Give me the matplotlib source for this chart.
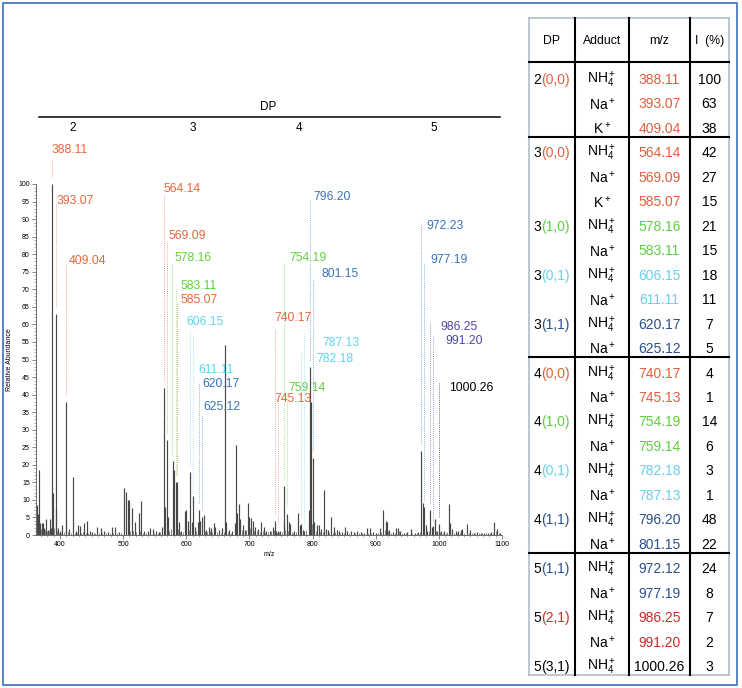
import matplotlib
matplotlib.use('Agg')
import matplotlib.pyplot as plt
from matplotlib.patches import Rectangle
from matplotlib.ticker import MultipleLocator

plt.rcParams['font.family'] = ['Liberation Sans', 'DejaVu Sans']
plt.rcParams['mathtext.fontset'] = 'custom'
plt.rcParams['mathtext.rm'] = 'Liberation Sans'
plt.rcParams['mathtext.it'] = 'Liberation Sans:italic'
plt.rcParams['mathtext.default'] = 'regular'

# ---- spectrum: main peaks (m/z, relative abundance %)
peak_mz = [363.0, 364.5, 366.8, 368.0, 371.0, 373.6, 375.0, 377.9, 381.0, 384.0, 386.0,
           388.1, 389.5, 393.1, 394.0, 397.0, 400.0, 403.8, 409.0, 410.3, 415.0, 421.3,
           425.0, 429.0, 431.0, 438.0, 443.5, 447.0, 451.0, 459.0, 465.0, 470.0, 476.0,
           482.0, 487.4, 493.0, 500.6, 504.4, 507.0, 509.0, 514.0, 519.0, 524.4, 528.6,
           533.0, 540.0, 543.0, 546.6, 552.0, 557.0, 561.5, 564.1, 565.6, 569.1, 571.0,
           578.2, 580.6, 583.1, 585.1, 588.0, 592.0, 597.4, 599.6, 602.7, 606.2, 609.0,
           611.1, 614.0, 618.6, 620.2, 622.5, 625.1, 627.6, 631.0, 635.5, 639.3, 643.5,
           646.0, 652.5, 656.7, 661.0, 663.0, 668.0, 673.0, 676.8, 679.0, 681.0, 683.0,
           685.8, 690.0, 693.0, 697.0, 699.0, 702.0, 705.3, 709.0, 714.0, 719.0, 723.0,
           727.0, 732.0, 736.6, 740.2, 742.0, 745.1, 749.0, 754.2, 755.5, 759.1, 763.0,
           765.0, 771.0, 777.3, 780.0, 782.2, 785.0, 787.1, 793.7, 796.2, 797.6, 801.2,
           803.0, 807.0, 810.7, 814.0, 818.0, 821.0, 824.0, 829.0, 834.5, 838.0, 842.5,
           847.0, 852.0, 855.0, 861.0, 865.0, 870.0, 876.8, 881.0, 885.8, 891.0, 896.0,
           900.0, 906.0, 912.3, 916.0, 917.5, 921.0, 927.0, 932.0, 935.5, 939.0, 945.0,
           950.0, 955.6, 962.0, 967.0, 972.1, 974.2, 977.2, 979.0, 982.0, 986.3, 988.5,
           991.2, 994.2, 997.0, 1000.3, 1004.0, 1008.0, 1015.4, 1018.0, 1021.0, 1027.0,
           1031.0, 1035.0, 1037.0, 1044.0, 1049.3, 1055.0, 1061.0, 1066.0, 1072.0, 1078.0,
           1083.0, 1088.0, 1092.0, 1097.0]
peak_int = [8.5, 6.0, 18.5, 3.4, 3.3, 3.3, 2.0, 4.7, 1.4, 4.7, 2.0,
            100, 12.0, 63, 7.6, 1.9, 1.2, 2.8, 38, 4.7, 1.7, 16.4,
            1.0, 2.8, 2.6, 3.3, 4.0, 1.0, 0.8, 2.4, 2.1, 1.1, 0.8,
            2.3, 2.3, 0.8, 13.5, 12.2, 10.0, 10.0, 7.6, 3.8, 6.2, 9.7,
            1.0, 1.2, 2.1, 1.7, 1.0, 0.8, 2.4, 42, 8.0, 27, 5.0,
            21, 18.5, 15, 15, 3.8, 1.0, 6.7, 7.2, 4.1, 18, 3.8,
            11, 2.4, 3.8, 7.0, 4.1, 5.0, 5.7, 1.4, 2.4, 2.1, 3.3,
            2.4, 1.4, 1.9, 54, 3.8, 1.4, 1.1, 3.3, 25.5, 6.2, 8.7,
            4.7, 2.8, 1.4, 9.0, 5.2, 4.9, 4.1, 2.4, 1.7, 3.8, 2.4,
            1.0, 1.0, 2.4, 4.0, 1.1, 1.0, 1.0, 14, 3.8, 6.0, 3.8,
            3.0, 1.1, 6.2, 2.8, 3.0, 1.5, 1.0, 7.1, 48, 38, 22,
            3.8, 2.8, 2.8, 1.7, 12.8, 1.7, 1.4, 5.2, 2.4, 1.4, 1.1,
            0.8, 2.4, 1.1, 1.2, 0.8, 1.0, 0.8, 0.6, 2.1, 2.1, 0.8,
            0.6, 2.1, 7.1, 4.0, 3.8, 1.4, 0.8, 2.1, 2.1, 1.0, 0.6,
            0.8, 1.7, 0.6, 0.8, 24, 9.0, 8.0, 2.8, 1.0, 7.0, 2.4,
            2.5, 4.7, 1.0, 3.0, 1.0, 1.1, 8.8, 3.3, 1.7, 1.0,
            1.0, 1.4, 1.7, 3.1, 1.4, 0.6, 0.8, 0.6, 0.7, 0.6,
            0.8, 3.6, 1.7, 0.6]

# ---- spectrum: baseline noise
noise_mz = [365.5, 369.5, 372.5, 376, 379.5, 382.5, 391, 396, 399, 402, 406, 412, 418, 423,
            427, 434, 436, 441, 445, 454, 456, 462, 467, 473, 479, 484, 490, 497, 502, 511,
            516, 521, 526, 531, 536, 549, 555, 559, 567, 573, 575.5, 587, 590, 595, 604.5,
            616, 629.5, 633, 637, 641.5, 649, 654.5, 659, 665.5, 671, 688, 695, 700.5, 707,
            711.5, 716.5, 721, 725, 730, 734, 738.5, 744, 747, 751, 757, 761, 767, 769, 774,
            790, 799.5, 805, 812, 816, 826, 832, 836, 844, 849, 858, 867, 873, 879, 888, 893,
            903, 909, 914, 919, 924, 930, 937.5, 942, 948, 958, 965, 969.5, 975.5, 984, 990,
            996, 1002, 1006, 1011, 1013, 1024, 1029, 1033, 1040, 1047, 1052, 1058, 1063,
            1069, 1075, 1081, 1086, 1090, 1095]
noise_int = [2.5, 1.8, 1.2, 1.5, 1.0, 1.3, 2.0, 1.1, 0.6, 0.7, 0.9, 0.8, 0.6, 0.7,
             0.5, 0.6, 0.9, 0.5, 0.7, 0.5, 0.7, 0.6, 0.5, 0.6, 0.5, 0.7, 0.6, 0.7, 1.5, 1.2,
             1.0, 0.8, 1.1, 0.7, 0.6, 0.7, 0.6, 0.9, 1.5, 1.1, 1.8, 1.6, 0.8, 0.9, 1.5,
             1.1, 1.2, 0.9, 1.0, 0.8, 0.9, 0.7, 0.8, 0.8, 0.6, 1.5, 1.5, 2.0, 1.2,
             1.0, 0.9, 1.1, 0.7, 0.8, 1.2, 1.5, 0.7, 0.8, 0.9, 1.5, 1.1, 0.8, 0.6, 0.8,
             1.5, 3.0, 1.2, 0.9, 0.8, 0.8, 0.7, 0.9, 0.6, 0.7, 0.5, 0.5, 0.6, 0.5, 0.7, 0.6,
             0.5, 0.9, 1.5, 1.2, 0.7, 0.6, 1.0, 0.5, 0.5, 0.6, 0.5, 0.9, 3.0, 1.2, 0.9,
             1.1, 0.8, 0.6, 0.7, 0.9, 0.7, 0.6, 0.7, 0.6, 0.5, 0.6, 0.5, 0.5,
             0.5, 0.5, 0.5, 0.7, 1.0, 0.5]

# ---- assignment table
row_dp = [2, 2, 2, 3, 3, 3, 3, 3, 3, 3, 3, 3, 4, 4, 4, 4, 4, 4, 4, 4, 5, 5, 5, 5, 5]
row_comp = ['(0,0)', '(0,0)', '(0,0)', '(0,0)', '(0,0)', '(0,0)', '(1,0)', '(1,0)',
            '(0,1)', '(0,1)', '(1,1)', '(1,1)', '(0,0)', '(0,0)', '(1,0)', '(1,0)',
            '(0,1)', '(0,1)', '(1,1)', '(1,1)', '(1,1)', '(1,1)', '(2,1)', '(2,1)', '(3,1)']
row_adduct = ['NH4', 'Na', 'K', 'NH4', 'Na', 'K', 'NH4', 'Na', 'NH4', 'Na', 'NH4', 'Na',
              'NH4', 'Na', 'NH4', 'Na', 'NH4', 'Na', 'NH4', 'Na', 'NH4', 'Na', 'NH4', 'Na', 'NH4']
row_mz = ['388.11', '393.07', '409.04', '564.14', '569.09', '585.07', '578.16', '583.11',
          '606.15', '611.11', '620.17', '625.12', '740.17', '745.13', '754.19', '759.14',
          '782.18', '787.13', '796.20', '801.15', '972.12', '977.19', '986.25', '991.20',
          '1000.26']
row_int = [100, 63, 38, 42, 27, 15, 21, 15, 18, 11, 7, 5, 4, 1, 14, 6, 3, 1, 48, 22,
           24, 8, 7, 2, 3]
# peak labels in the spectrum (same order as table rows)
spec_labels = ['388.11', '393.07', '409.04', '564.14', '569.09', '585.07', '578.16', '583.11',
               '606.15', '611.11', '620.17', '625.12', '740.17', '745.13', '754.19', '759.14',
               '782.18', '787.13', '796.20', '801.15', '972.23', '977.19', '986.25', '991.20',
               '1000.26']
dp_values = ['2', '3', '4', '5']

# ---- layout for the labels: text left (m/z), text height, top of the dotted guide
lab_x = [387.4, 395.3, 414.4, 563.6, 571.5, 590.6, 581.0, 590.6, 600.0, 619.0, 625.5, 627.0,
         739.8, 739.8, 763.6, 762.0, 806.4, 816.0, 801.7, 814.4, 981.0, 985.8, 1001.7,
         1009.6, 1016.0]
lab_y = [109.7, 95.2, 78.1, 98.6, 85.2, 67.0, 78.9, 70.9, 60.7, 47.0, 43.0, 36.5,
         61.8, 38.7, 78.9, 41.9, 50.1, 54.7, 96.3, 74.4, 88.0, 78.3, 59.3, 55.3, 41.9]
guide_top = [106.8, 94.6, 76.9, 96.9, 83.8, 66.0, 77.5, 70.0, 58.4, 57.0, 43.5, 34.2,
             58.6, 40.0, 77.6, 40.5, 52.0, 57.5, 95.4, 73.3, 88.9, 77.5, 60.4, 56.4, 43.3]
dp_centers = [73, 193, 299, 434]   # pixel x of the DP numbers

tab_colors = {'(0,0)': '#e35f3a', '(1,0)': '#5ccf3e', '(0,1)': '#62d4ec',
              '(1,1)': '#2c4f8c', '(2,1)': '#cf2a2a', '(3,1)': 'black'}
plot_colors = {'(0,0)': '#e8663e', '(1,0)': '#62d23f', '(0,1)': '#5fd5ee',
               '(1,1)': '#3a74bd', '(2,1)': '#4d46a5', '(3,1)': 'black'}
adduct_tex = {'NH4': r'NH$_4^+$', 'Na': r'Na$^+$', 'K': r'K$^+$'}

W, H = 742, 688
fig = plt.figure(figsize=(W / 100, H / 100), dpi=100)

# ---------------- spectrum
ax = fig.add_axes([36 / W, 1 - 535 / H, 466 / W, 351 / H])
ax.vlines(noise_mz, 0, noise_int, color='#777777', lw=0.6)
ax.vlines(peak_mz, 0, peak_int, color='#474747', lw=0.85)
ax.set_xlim(362, 1100)
ax.set_ylim(0, 100)
for s in ['top', 'right']:
    ax.spines[s].set_visible(False)
for s in ['left', 'bottom']:
    ax.spines[s].set_color('#555555')
    ax.spines[s].set_linewidth(0.6)
ax.xaxis.set_major_locator(MultipleLocator(100))
ax.xaxis.set_minor_locator(MultipleLocator(10))
ax.yaxis.set_major_locator(MultipleLocator(5))
ax.yaxis.set_minor_locator(MultipleLocator(1))
ax.tick_params(which='major', length=3, width=0.5, labelsize=5, pad=1.5, color='#555555')
ax.tick_params(which='minor', length=1.5, width=0.4, color='#777777')
ax.set_xlabel('m/z', fontsize=5, labelpad=2)
ax.set_ylabel('Relative Abundance', fontsize=5, labelpad=4)

for i, lab in enumerate(spec_labels):
    c = plot_colors[row_comp[i]]
    mz = float(row_mz[i])
    ax.vlines(mz, row_int[i] + 2, guide_top[i], colors=c, linestyles=(0, (1, 1.5)),
              lw=0.6, alpha=0.75, clip_on=False)
    ax.text(lab_x[i], lab_y[i], lab, color=c, fontsize=8.8, ha='left', va='center',
            clip_on=False)

# ---------------- overlay (pixel coords): DP scale, table, frame
ov = fig.add_axes([0, 0, 1, 1])
ov.set_xlim(0, W)
ov.set_ylim(H, 0)
ov.set_axis_off()
ov.patch.set_visible(False)

ov.plot([39, 500], [117, 117], color='black', lw=1.1)
ov.text(268, 107, 'DP', fontsize=8.5, ha='center', va='center')
for x, d in zip(dp_centers, dp_values):
    ov.text(x, 128, d, fontsize=8.5, ha='center', va='center')

col_x = [529, 575, 629, 690, 729]
top, head_line, bottom = 18, 62, 675
row0, step = 80, 24.46
gray = '#b3bcc7'

# outer border
ov.plot([col_x[0], col_x[-1]], [top, top], color=gray, lw=1.2)
ov.plot([col_x[0], col_x[-1]], [bottom, bottom], color=gray, lw=1.2)
ov.plot([col_x[0], col_x[0]], [top, bottom], color=gray, lw=1.2)
ov.plot([col_x[-1], col_x[-1]], [top, bottom], color=gray, lw=1.2)
for x in col_x[1:-1]:
    ov.plot([x, x], [top, bottom], color='black', lw=1.5)
ov.plot([col_x[0], col_x[-1]], [head_line, head_line], color='black', lw=1.5)

centers = [(col_x[k] + col_x[k + 1]) / 2 for k in range(4)]
for x, h in zip(centers, ['DP', 'Adduct', 'm/z', 'I  (%)']):
    ov.text(x, 41, h, fontsize=8.8, ha='center', va='center')

fs = 10
prev = None
for i in range(len(row_mz)):
    y = row0 + step * i
    if i > 0 and row_dp[i] != row_dp[i - 1]:
        ov.plot([col_x[0], col_x[-1]], [y - step + 8, y - step + 8], color='black', lw=1.5)
    key = (row_dp[i], row_comp[i])
    if key != prev:
        ov.text(541, y, str(row_dp[i]), fontsize=fs, ha='right', va='center')
        ov.text(541, y, row_comp[i], fontsize=fs, ha='left', va='center',
                color=tab_colors[row_comp[i]])
    prev = key
    ov.text(centers[1], y, adduct_tex[row_adduct[i]], fontsize=fs, ha='center', va='center')
    ov.text(centers[2], y, row_mz[i], fontsize=fs, ha='center', va='center',
            color=tab_colors[row_comp[i]])
    ov.text(centers[3], y, str(row_int[i]), fontsize=fs, ha='center', va='center')

ov.add_patch(Rectangle((2.5, 2.5), 734.5, 682.5, fill=False, ec='#4c7bbd', lw=1.3))

fig.savefig('out.png', dpi=100)
